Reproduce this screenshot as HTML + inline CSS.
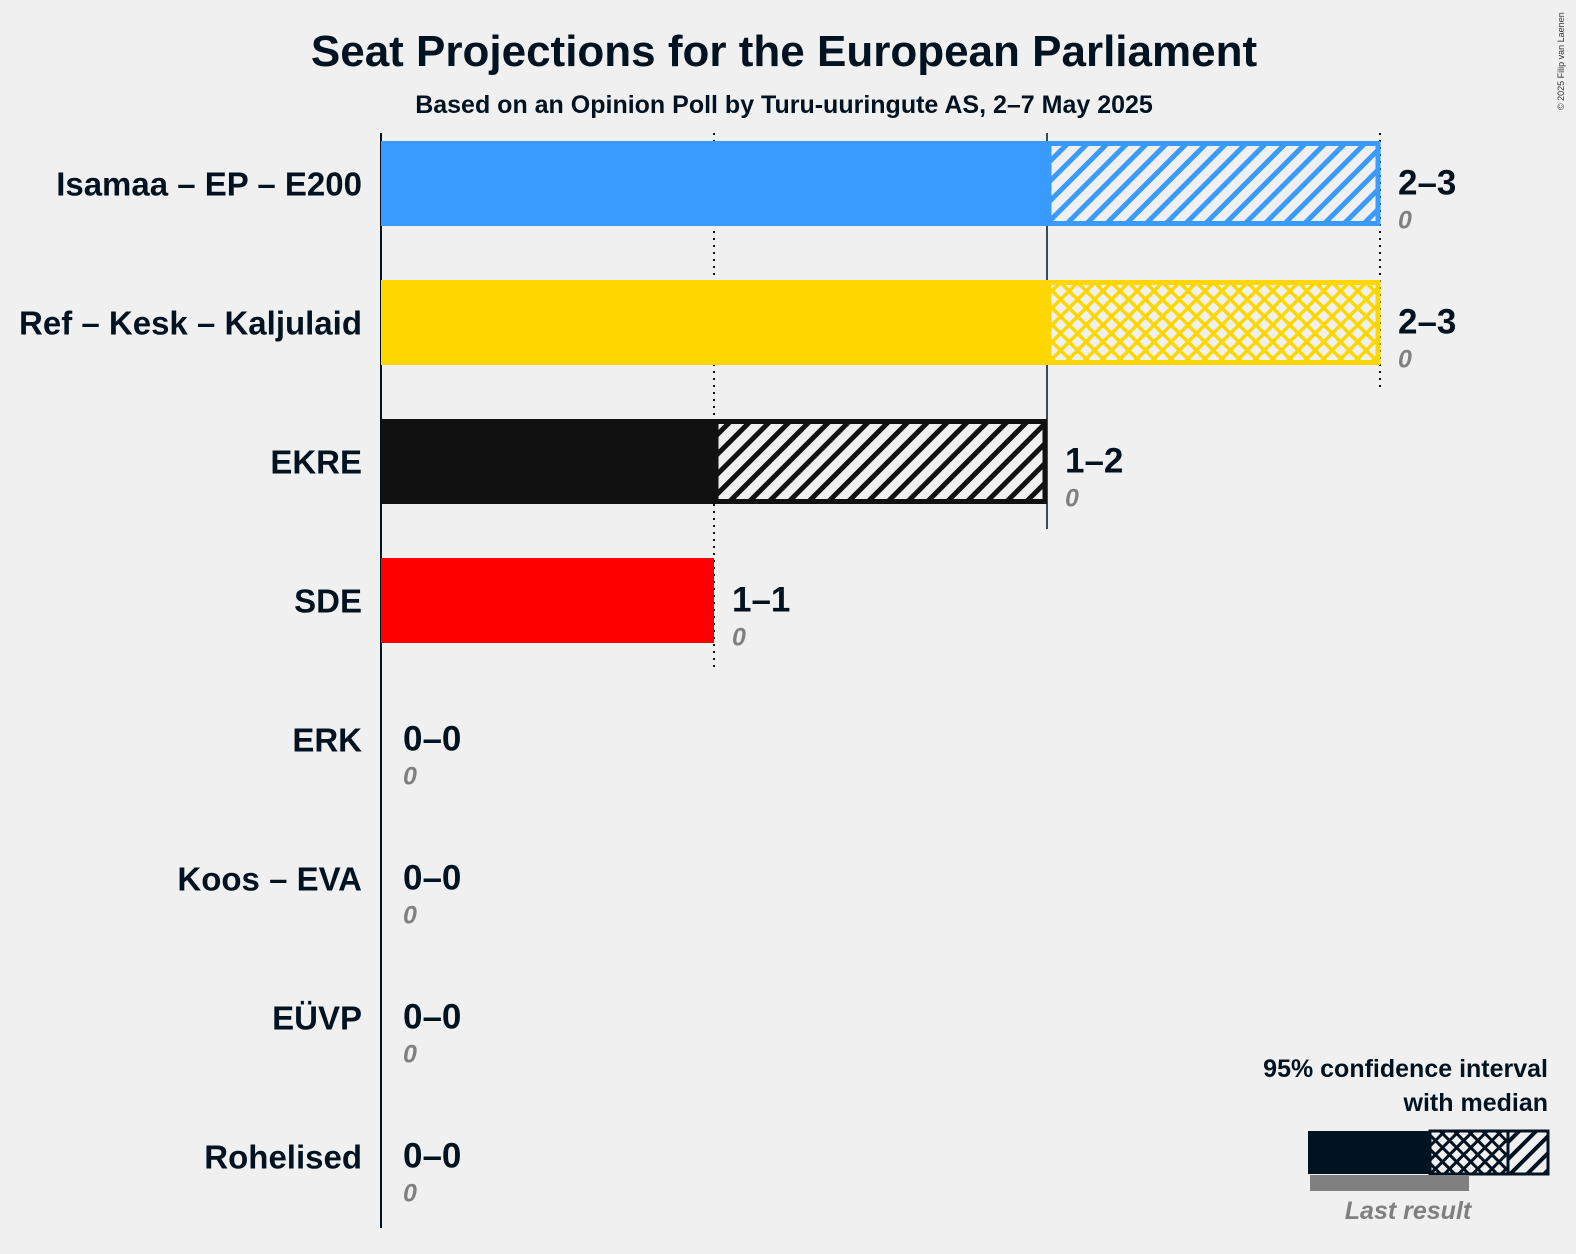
<!DOCTYPE html>
<html><head><meta charset="utf-8"><style>
body{margin:0;background:#f0f0f0;}
svg{display:block;font-family:"Liberation Sans",sans-serif;}
</style></head><body>
<svg id="chart" width="1576" height="1254" viewBox="0 0 1576 1254">
<defs>
<pattern id="hatch-blue" patternUnits="userSpaceOnUse" width="14" height="14" patternTransform="rotate(45)"><rect width="14" height="14" fill="#f0f0f0"/><rect width="5" height="14" fill="#3a9bff"/></pattern>
<pattern id="hatch-black" patternUnits="userSpaceOnUse" width="14" height="14" patternTransform="rotate(45)"><rect width="14" height="14" fill="#f0f0f0"/><rect width="5" height="14" fill="#111"/></pattern>
<pattern id="cross-yellow" patternUnits="userSpaceOnUse" width="12" height="12" patternTransform="rotate(45)"><rect width="12" height="12" fill="#f0f0f0"/><rect width="3.5" height="12" fill="#ffd700"/><rect width="12" height="3.5" fill="#ffd700"/></pattern>
<pattern id="cross-dark" patternUnits="userSpaceOnUse" width="10" height="10" patternTransform="rotate(45)"><rect width="10" height="10" fill="#f0f0f0"/><rect width="3" height="10" fill="#011321"/><rect width="10" height="3" fill="#011321"/></pattern>
<pattern id="hatch-dark" patternUnits="userSpaceOnUse" width="12" height="12" patternTransform="rotate(45)"><rect width="12" height="12" fill="#f0f0f0"/><rect width="4" height="12" fill="#011321"/></pattern>
</defs>
<text x="784" y="66" text-anchor="middle" font-size="44" font-weight="bold" fill="#011321">Seat Projections for the European Parliament</text>
<text x="784" y="113" text-anchor="middle" font-size="25" font-weight="bold" fill="#011321">Based on an Opinion Poll by Turu-uuringute AS, 2–7 May 2025</text>
<text x="1564" y="110" font-size="9" fill="#333" transform="rotate(-90 1564 110)">© 2025 Filip van Laenen</text>
<g id="grid"></g>
<g id="bars"></g>
<g>
<text x="1548" y="1077" text-anchor="end" font-size="25" font-weight="bold" fill="#011321">95% confidence interval</text>
<text x="1548" y="1111" text-anchor="end" font-size="25" font-weight="bold" fill="#011321">with median</text>
<rect x="1308" y="1131" width="122" height="43" fill="#011321"/>
<rect x="1430" y="1131" width="78" height="43" fill="url(#cross-dark)" stroke="#011321" stroke-width="3"/>
<rect x="1508" y="1131" width="40" height="43" fill="url(#hatch-dark)" stroke="#011321" stroke-width="3"/>
<rect x="1310" y="1175" width="159" height="16" fill="#808080"/>
<text x="1408" y="1219" text-anchor="middle" font-size="25" font-weight="bold" font-style="italic" fill="#808080">Last result</text>
</g>
</svg>
<script>
const parties = ["Isamaa – EP – E200","Ref – Kesk – Kaljulaid","EKRE","SDE","ERK","Koos – EVA","EÜVP","Rohelised"];
const ciLow = [2,2,1,1,0,0,0,0];
const median = [2,3,1,1,0,0,0,0];
const ciHigh = [3,3,2,1,0,0,0,0];
const lastResult = [0,0,0,0,0,0,0,0];
const colors = ["#3a9bff","#ffd700","#111111","#ff0000","#888","#888","#888","#888"];
const medFill = ["url(#hatch-blue)","url(#cross-yellow)","url(#hatch-black)","","","","",""];
const ticks = [0,1,2,3];

const NS="http://www.w3.org/2000/svg";
const x0=381, seat=333, rowTop=141, rowStep=139, barH=85;
const xs=v=>x0+v*seat;
const ys=i=>rowTop+i*rowStep;
function mk(tag,attrs,parent){const e=document.createElementNS(NS,tag);for(const k in attrs)e.setAttribute(k,attrs[k]);parent.appendChild(e);return e;}
const grid=document.getElementById('grid'), bars=document.getElementById('bars');
const maxV=Math.max(...ciHigh);
ticks.forEach(t=>{
  let last=-1;ciHigh.forEach((h,i)=>{if(h>=t)last=i;});
  const bottom = t===0?1228:ys(last)+barH+25;
  const l=mk('line',{x1:xs(t),x2:xs(t),y1:133,y2:bottom,stroke:'#011321','stroke-width':t===0?2:(t%2===0?1.5:2),'stroke-dasharray':t===0||t===2?'':'2,5'},grid);
  
  
});
parties.forEach((p,i)=>{
  const y=ys(i), cy=y+barH/2;
  const lab=mk('text',{x:362,y:cy+12,'text-anchor':'end','font-size':33,'font-weight':'bold',fill:'#011321'},bars);
  lab.textContent=p;
  
  
  if(ciLow[i]>0){
    const r=mk('rect',{x:xs(0),y:y,width:xs(ciLow[i])-xs(0),height:barH,fill:colors[i]},bars);
    
    
  }
  if(ciHigh[i]>ciLow[i]){
    const r=mk('rect',{x:xs(ciLow[i])+2,y:y+2.5,width:xs(ciHigh[i])-xs(ciLow[i])-4,height:barH-5,fill:medFill[i],stroke:colors[i],'stroke-width':5},bars);
    
    
  }
  const tx=xs(ciHigh[i])+(ciHigh[i]>0?18:22);
  const t1=mk('text',{x:tx,y:cy+11,'font-size':35,'font-weight':'bold',fill:'#011321'},bars);
  t1.textContent=ciLow[i]+'–'+ciHigh[i];
  
  
  const t2=mk('text',{x:tx,y:cy+45,'font-size':25,'font-weight':'bold','font-style':'italic',fill:'#808080'},bars);
  t2.textContent=lastResult[i];
  
  
});
</script>
</body></html>
